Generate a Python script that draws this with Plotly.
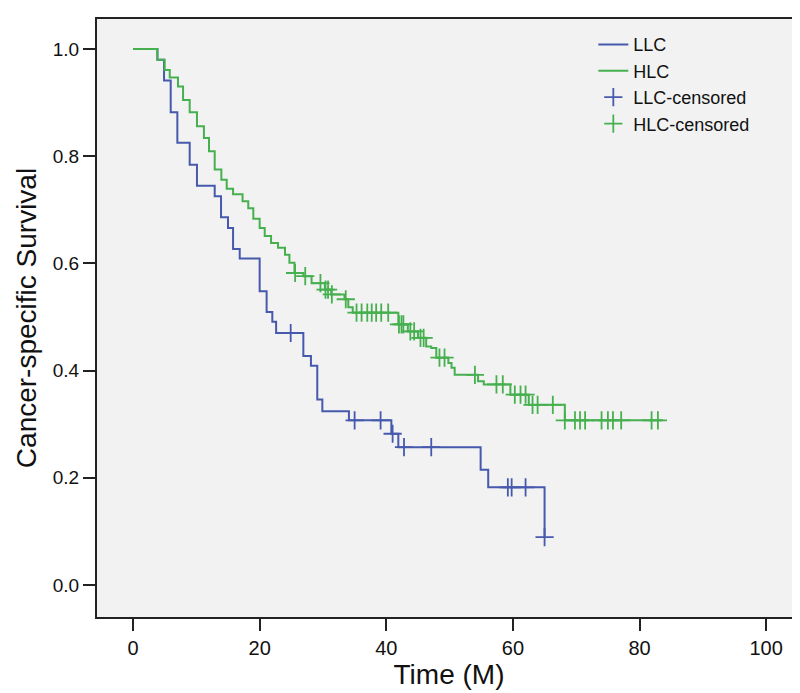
import plotly.graph_objects as go

# ---- data ----
llc_t = [0, 3.85, 4.9, 5.95, 7.0, 8.95, 10.1, 12.9, 13.9, 15.0, 15.8, 16.85, 20.0, 21.1,
         22.0, 22.6, 26.9, 28.1, 29.1, 29.9, 34.1, 40.8, 41.9, 54.9, 56.1, 65.0]
llc_s = [1.0, 0.980, 0.941, 0.882, 0.825, 0.784, 0.745, 0.725, 0.686, 0.666, 0.627, 0.609,
         0.548, 0.509, 0.491, 0.470, 0.427, 0.409, 0.346, 0.324, 0.307, 0.282, 0.257,
         0.215, 0.182, 0.089]
llc_cens_t = [24.9, 35.0, 39.1, 41.0, 42.8, 47.1, 59.2, 59.8, 62.0, 65.0]

hlc_t = [0, 3.85, 5.0, 5.8, 7.1, 7.9, 8.95, 10.1, 11.2, 12.0, 12.9, 13.95, 14.8, 15.8,
         17.3, 18.2, 19.0, 20.0, 20.8, 21.8, 22.9, 24.0, 24.7, 25.5, 26.9, 28.2, 30.3,
         31.3, 33.4, 34.0, 34.7, 41.9, 43.4, 45.0, 46.3, 47.1, 47.9, 49.8, 50.3, 50.8,
         54.5, 55.4, 59.6, 62.5, 68.2]
hlc_s = [1.0, 0.980, 0.961, 0.947, 0.930, 0.905, 0.882, 0.856, 0.834, 0.809, 0.775, 0.756,
         0.739, 0.729, 0.716, 0.703, 0.683, 0.666, 0.651, 0.638, 0.629, 0.616, 0.601,
         0.582, 0.576, 0.563, 0.551, 0.542, 0.533, 0.518, 0.508, 0.486, 0.473, 0.461,
         0.445, 0.442, 0.424, 0.414, 0.405, 0.392, 0.380, 0.374, 0.355, 0.336, 0.307]
hlc_cens_t = [25.6, 27.2, 29.6, 30.4, 30.8, 31.4, 33.6, 35.3, 36.1, 37.0, 37.7, 38.4, 39.2,
              40.3, 42.0, 42.4, 42.7, 43.8, 44.4, 45.4, 45.9, 48.4, 49.2, 54.0, 57.4, 58.4,
              60.3, 61.2, 62.0, 63.1, 63.9, 66.3, 68.2, 69.8, 70.6, 71.4, 74.0, 75.0, 75.8,
              77.1, 81.9, 82.9]
hlc_end_t = 83.7
llc_end_t = 65.0

x_ticks = [0, 20, 40, 60, 80, 100]
y_ticks = [0.0, 0.2, 0.4, 0.6, 0.8, 1.0]

BLUE = "#4659ad"
GREEN = "#46b04f"


def surv_at(ts, ss, t):
    v = ss[0]
    for ti, si in zip(ts, ss):
        if ti <= t:
            v = si
    return v


llc_cens_s = [surv_at(llc_t, llc_s, t) for t in llc_cens_t]
hlc_cens_s = [surv_at(hlc_t, hlc_s, t) for t in hlc_cens_t]

fig = go.Figure()
fig.add_trace(go.Scatter(x=llc_t + [llc_end_t], y=llc_s + [llc_s[-1]], mode="lines",
                         line=dict(color=BLUE, width=2, shape="hv"), name="LLC"))
fig.add_trace(go.Scatter(x=hlc_t + [hlc_end_t], y=hlc_s + [hlc_s[-1]], mode="lines",
                         line=dict(color=GREEN, width=2, shape="hv"), name="HLC"))
fig.add_trace(go.Scatter(x=llc_cens_t, y=llc_cens_s, mode="markers",
                         marker=dict(symbol="cross-thin", size=13,
                                     line=dict(color=BLUE, width=1.8)),
                         name="LLC-censored"))
fig.add_trace(go.Scatter(x=hlc_cens_t, y=hlc_cens_s, mode="markers",
                         marker=dict(symbol="cross-thin", size=13,
                                     line=dict(color=GREEN, width=1.8)),
                         name="HLC-censored"))

font = "Liberation Sans, Arial, sans-serif"

fig.update_layout(
    width=800, height=693,
    margin=dict(l=89, r=7, t=11, b=84),
    paper_bgcolor="white",
    plot_bgcolor="#f2f2f2",
    showlegend=True,
    legend=dict(x=0.705, y=0.988, xanchor="left", yanchor="top",
                bgcolor="rgba(0,0,0,0)", font=dict(family=font, size=18, color="#111"),
                tracegroupgap=0, itemwidth=30),
    xaxis=dict(range=[-5.69, 105.5], tickvals=x_ticks, ticktext=[str(v) for v in x_ticks],
               automargin=False,
               showgrid=False, zeroline=False, showline=True, linecolor="#222",
               linewidth=2, mirror=True, ticks="outside", ticklen=12, tickwidth=1.5,
               tickcolor="#222", tickfont=dict(family=font, size=20, color="#111"),
               title=dict(text="Time (M)", font=dict(family=font, size=28, color="#111"),
                          standoff=4)),
    yaxis=dict(range=[-0.060, 1.056], tickvals=y_ticks,
               ticktext=[f"{v:.1f}" for v in y_ticks],
               automargin=False,
               showgrid=False, zeroline=False, showline=True, linecolor="#222",
               linewidth=2, mirror=True, ticks="outside", ticklen=12, tickwidth=1.5,
               tickcolor="#222", tickfont=dict(family=font, size=19, color="#111"),
               title=dict(text="Cancer-specific Survival",
                          font=dict(family=font, size=28, color="#111"), standoff=8)),
)

fig.write_html("out.html")
